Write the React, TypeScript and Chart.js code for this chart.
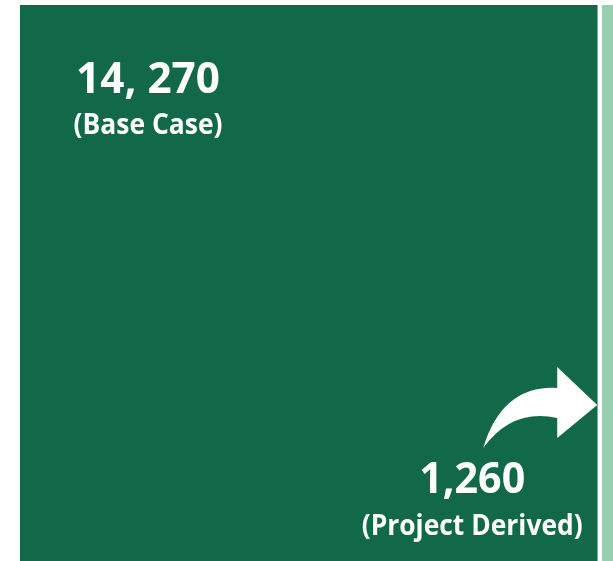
import React, { useEffect, useRef } from "react";
import { Chart, registerables } from "chart.js";

Chart.register(...registerables);

const categories = ["Total"];
const baseCaseValues = [14270];
const projectDerivedValues = [1260];
const baseCaseLabel = ["14, 270", "(Base Case)"];
const projectLabel = ["1,260", "(Project Derived)"];

const DARK = "#116948";
const LIGHT = "#98CFB1";
const FONT = "'Open Sans'";

function fitText(ctx: any, text: string, x: number, y: number, targetW: number, sy: number) {
  const w = ctx.measureText(text).width;
  const sx = targetW / w;
  ctx.save();
  ctx.translate(x, y);
  ctx.scale(sx, sy);
  ctx.fillText(text, 0, 0);
  ctx.restore();
}

const labelPlugin = {
  id: "labels",
  afterDraw(chart: any) {
    const ctx = chart.ctx;
    const xs = chart.scales.x;
    const area = chart.chartArea;
    const x0 = xs.getPixelForValue(0);
    const xEnd = xs.getPixelForValue(baseCaseValues[0]);
    ctx.save();
    ctx.fillStyle = "#ffffff";
    ctx.textAlign = "center";
    ctx.textBaseline = "alphabetic";
    // base case label
    const bx = x0 + 128;
    ctx.font = `bold 42px ${FONT}`;
    fitText(ctx, baseCaseLabel[0], bx, area.top + 88, 144, 1.04);
    ctx.font = `bold 26px ${FONT}`;
    fitText(ctx, baseCaseLabel[1], bx, area.top + 129, 149, 1.12);
    // project derived label
    const px = xEnd - 125;
    ctx.font = `bold 42px ${FONT}`;
    fitText(ctx, projectLabel[0], px, area.top + 488, 106, 1.04);
    ctx.font = `bold 26px ${FONT}`;
    fitText(ctx, projectLabel[1], px, area.top + 530, 221, 1.12);

    // curved arrow pointing at the project-derived bar
    const tipX = xEnd;
    const tipY = area.top + 395;
    ctx.beginPath();
    ctx.moveTo(tipX - 114, tipY + 48); // tail
    ctx.quadraticCurveTo(tipX - 95, tipY - 15, tipX - 40, tipY - 12);
    ctx.lineTo(tipX - 40, tipY - 33);
    ctx.lineTo(tipX, tipY + 5);
    ctx.lineTo(tipX - 40, tipY + 38);
    ctx.lineTo(tipX - 40, tipY + 18);
    ctx.quadraticCurveTo(tipX - 85, tipY + 8, tipX - 114, tipY + 48);
    ctx.closePath();
    ctx.fill();
    ctx.restore();
  },
};

export default function App() {
  const ref = useRef<HTMLCanvasElement | null>(null);
  useEffect(() => {
    if (!ref.current) return;
    const chart = new Chart(ref.current, {
      type: "bar",
      data: {
        labels: categories,
        datasets: [
          {
            label: "Base Case",
            data: baseCaseValues,
            backgroundColor: DARK,
            borderWidth: 0,
            barPercentage: 1,
            categoryPercentage: 1,
          },
          {
            label: "Project Derived",
            data: projectDerivedValues,
            backgroundColor: LIGHT,
            borderColor: "#ffffff",
            borderWidth: { left: 5, top: 0, right: 0, bottom: 0 },
            borderSkipped: false,
            barPercentage: 1,
            categoryPercentage: 1,
          },
        ],
      },
      options: {
        indexAxis: "y",
        animation: false,
        responsive: false,
        layout: { padding: { left: 20, top: 5, right: 0, bottom: 0 } },
        plugins: { legend: { display: false }, tooltip: { enabled: false } },
        scales: {
          x: { stacked: true, display: false, min: 0, max: 14660 },
          y: { stacked: true, display: false },
        },
      },
      plugins: [labelPlugin],
    } as any);
    return () => chart.destroy();
  }, []);
  return (
    <div style={{ position: "absolute", left: 0, top: 0, width: 613, height: 561 }}>
      <canvas ref={ref} width={613} height={561} style={{ display: "block" }} />
    </div>
  );
}
